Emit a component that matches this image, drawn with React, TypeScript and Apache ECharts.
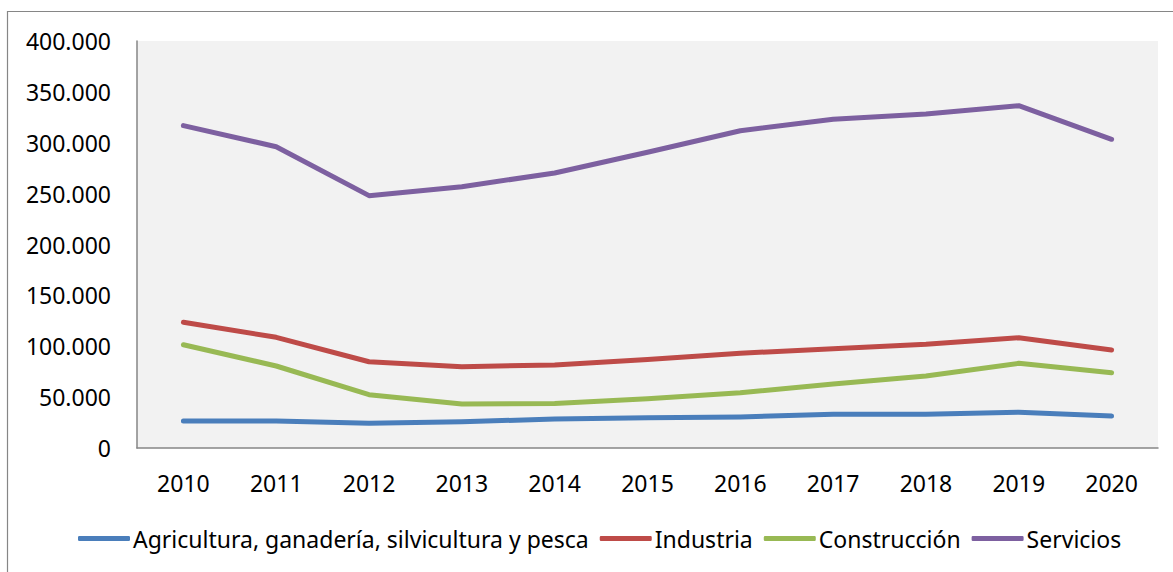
import React, { useEffect, useRef } from "react";
import * as echarts from "echarts";

const years = ["2010", "2011", "2012", "2013", "2014", "2015", "2016", "2017", "2018", "2019", "2020"];
const agricultura = [26500, 26500, 24300, 25800, 28500, 29800, 30500, 33100, 33100, 35100, 31400];
const industria = [123500, 108800, 84800, 79900, 81600, 87000, 93100, 97600, 101900, 108400, 96300];
const construccion = [101500, 80600, 52400, 43200, 43700, 48500, 54300, 62900, 70800, 83200, 74000];
const servicios = [316800, 296100, 248000, 256800, 270300, 290600, 311800, 323000, 328300, 336400, 303400];

const seriesNames = [
  "Agricultura, ganadería, silvicultura y pesca",
  "Industria",
  "Construcción",
  "Servicios",
];
const colors = ["#4A7EBB", "#BE4B48", "#98B954", "#7D60A0"];

const FONT = "'Noto Sans', sans-serif";

function fmt(v: number): string {
  if (v === 0) return "0";
  const s = Math.round(v).toString();
  return s.replace(/\B(?=(\d{3})+(?!\d))/g, ".");
}

export default function App() {
  const ref = useRef<HTMLDivElement>(null);
  useEffect(() => {
    if (!ref.current) return;
    const chart = echarts.init(ref.current, undefined, { renderer: "svg" });
    const data = [agricultura, industria, construccion, servicios];
    chart.setOption({
      animation: false,
      backgroundColor: "#ffffff",
      textStyle: { fontFamily: FONT },
      graphic: [
        {
          type: "rect",
          shape: { x: 7.5, y: 11.5, width: 1400, height: 800 },
          style: { fill: "none", stroke: "#868686", lineWidth: 1.2 },
          silent: true,
          z: -10,
        },
      ],
      grid: {
        left: 137,
        right: 15,
        top: 41,
        bottom: 124,
        show: true,
        backgroundColor: "#F2F2F2",
        borderWidth: 0,
      },
      legend: {
        bottom: 22,
        left: 78,
        padding: 0,
        itemWidth: 52,
        itemHeight: 5,
        itemGap: 11,
        icon: "roundRect",
        textStyle: { fontFamily: FONT, fontSize: 23, color: "#000", padding: [0, 0, 0, -2] },
        data: seriesNames,
      },
      xAxis: {
        type: "category",
        data: years,
        boundaryGap: true,
        axisLine: { show: true, lineStyle: { color: "#868686", width: 1.5 } },
        axisTick: { show: false },
        axisLabel: { fontFamily: FONT, fontSize: 23, color: "#000", margin: 23 },
      },
      yAxis: {
        type: "value",
        min: 0,
        max: 400000,
        interval: 50000,
        splitLine: { show: false },
        axisLine: { show: true, lineStyle: { color: "#868686", width: 1.5 } },
        axisTick: { show: false },
        axisLabel: {
          fontFamily: FONT,
          fontSize: 23,
          color: "#000",
          margin: 26,
          formatter: (v: number) => fmt(v),
        },
      },
      series: seriesNames.map((name, i) => ({
        name,
        type: "line",
        data: data[i],
        showSymbol: false,
        symbol: "none",
        color: colors[i],
        lineStyle: { color: colors[i], width: 5, cap: "round", join: "round" },
        itemStyle: { color: colors[i] },
      })),
    });
    return () => chart.dispose();
  }, []);
  return (
    <div
      ref={ref}
      style={{ position: "fixed", left: 0, top: 0, width: 1173, height: 572 }}
    />
  );
}
